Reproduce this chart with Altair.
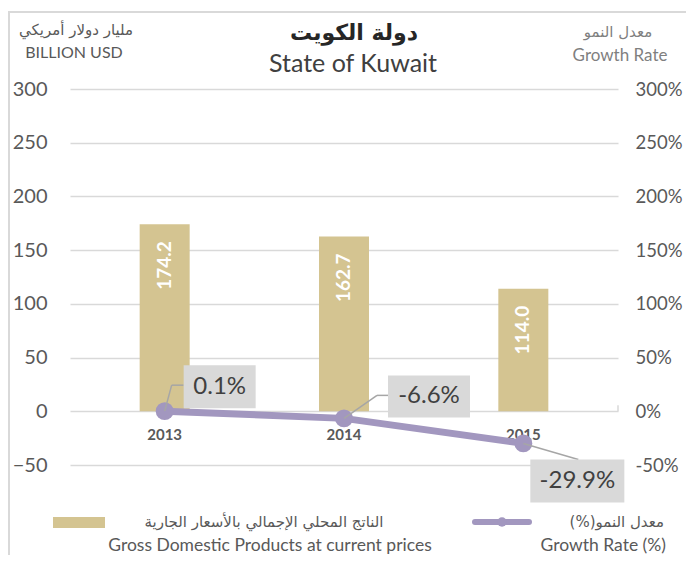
import altair as alt
import pandas as pd

# ---------------- data ----------------
years = ["2013", "2014", "2015"]
gdp = [174.2, 162.7, 114.0]
growth = [0.1, -6.6, -29.9]
gdp_text = ["174.2", "162.7", "114.0"]
growth_text = ["0.1%", "-6.6%", "-29.9%"]
y_ticks = [-50, 0, 50, 100, 150, 200, 250, 300]

title_ar = "دولة الكويت"
title_en = "State of Kuwait"
unit_ar = "مليار دولار أمريكي"
unit_en = "BILLION USD"
rate_ar = "معدل النمو"
rate_en = "Growth Rate"
legend_gdp_ar = "الناتج المحلي الإجمالي بالأسعار الجارية"
legend_gdp_en = "Gross Domestic Products at current prices"
legend_rate_ar = "(%)معدل النمو"
legend_rate_en = "Growth Rate (%)"

# ---------------- styles ----------------
n = len(years)
df = pd.DataFrame({"i": list(range(n)), "year": years, "gdp": gdp, "growth": growth,
                   "gdp_text": gdp_text, "growth_text": growth_text})

W, H = 548, 376
PAD = {"left": 62, "top": 81, "right": 68, "bottom": 90}
FONT = "Lato"
AR_FONT = "DejaVu Sans"
GRID = "#d9d9d9"
BAR = "#d4c491"
LINE = "#a297bf"
TXT = "#595959"

# label box placement (pixel offsets relative to the point): (cx, cy, w, h), leader segments
label_style = [
    dict(box=(55, -24.5, 72, 43), leader=[(0, 0, 7, -26), (7, -26, 19, -26)]),
    dict(box=(85, -22, 82, 42), leader=[(0, 0, 33, -23), (33, -23, 44, -23)]),
    dict(box=(54, 37.5, 94, 43), leader=[(0, 0, 55, 16)]),
]

xs = alt.Scale(domain=[-0.5, n - 0.5], nice=False, zero=False)
X = alt.X("i:Q", scale=xs, axis=None)


def Y(field, axis=None):
    return alt.Y(field, scale=alt.Scale(domain=[-50, 300], nice=False, zero=False), axis=axis)


base = alt.Chart(df).transform_calculate(zero="0")

left_axis = alt.Axis(values=y_ticks, grid=True, gridColor=GRID, gridWidth=1.5, domain=False, ticks=False,
                     labelFont=FONT, labelFontSize=20, labelColor=TXT, labelPadding=23, title=None)
right_axis = alt.Axis(orient="right", values=y_ticks, grid=False, domain=False, ticks=False,
                      labelFont=FONT, labelFontSize=18.5, labelColor=TXT, labelPadding=17, title=None,
                      labelExpr="datum.value + '%'")

bars = base.mark_bar(width=50, color=BAR).encode(x=X, y=Y("gdp:Q", left_axis), y2="zero:Q")

bar_labels = base.mark_text(angle=270, align="right", baseline="middle", dx=-17, font=FONT,
                            fontSize=19, fontWeight="bold", color="white").encode(
    x=X, y=Y("gdp:Q"), text="gdp_text:N")

year_labels = base.mark_text(dy=24, font=FONT, fontSize=15, fontWeight="bold", color=TXT).encode(
    x=X, y=Y("zero:Q"), text="year:N")

end_tick = alt.Chart(pd.DataFrame({"v": [0]})).mark_rule(color=GRID, strokeWidth=1.5, y2Offset=-6).encode(
    x=alt.value(W), y=Y("v:Q"), y2="v:Q")

line = base.mark_line(color=LINE, strokeWidth=7).encode(x=X, y=Y("growth:Q", right_axis))
points = base.mark_circle(size=320, color=LINE, opacity=1).encode(x=X, y=Y("growth:Q"))

label_layers = []
for i, st in enumerate(label_style):
    sub = base.transform_filter(f"datum.i == {i}")
    for (a, b, c, d) in st["leader"]:
        label_layers.append(sub.mark_rule(color="#a6a6a6", strokeWidth=1.5, xOffset=a, yOffset=b,
                                          x2Offset=c, y2Offset=d).encode(
            x=X, x2="i:Q", y=Y("growth:Q"), y2="growth:Q"))
    cx, cy, w, h = st["box"]
    r = h / w
    label_layers.append(sub.mark_point(shape=f"M-1,-{r:.4f}H1V{r:.4f}H-1Z", size=w * w, filled=True,
                                       color=GRID, opacity=1, strokeWidth=0, xOffset=cx, yOffset=cy).encode(
        x=X, y=Y("growth:Q")))
    label_layers.append(sub.mark_text(dx=cx, dy=cy, font=FONT, fontSize=24, color="#404040",
                                      baseline="middle").encode(
        x=X, y=Y("growth:Q"), text="growth_text:N"))


def label(txt, x, y, size, color=TXT, weight="normal", align="center", font=FONT):
    return alt.Chart(pd.DataFrame({"t": [txt]})).mark_text(
        font=font, fontSize=size, fontWeight=weight, color=color, align=align, baseline="middle").encode(
        x=alt.value(x), y=alt.value(y), text="t:N")


deco = [
    label(title_ar, 284, -56, 22, "#262626", "bold", font=AR_FONT),
    label(title_en, 283, -25, 25, "#404040"),
    label(unit_ar, 6, -59, 15, TXT, font=AR_FONT),
    label(unit_en, 4, -36, 16, TXT),
    label(rate_ar, 548, -57, 15, "#7f7f7f", font=AR_FONT),
    label(rate_en, 550, -33, 17, "#7f7f7f"),
    label(legend_gdp_ar, 194, 433, 15, TXT, font=AR_FONT),
    label(legend_gdp_en, 200, 457, 17.5, TXT),
    label(legend_rate_ar, 594, 433, 15, TXT, align="right", font=AR_FONT),
    label(legend_rate_en, 596, 457, 17.5, TXT, align="right"),
]

one = alt.Chart(pd.DataFrame({"k": [0]}))
legend_rect = one.mark_rect(color=BAR).encode(x=alt.value(-17), x2=alt.value(35), y=alt.value(428),
                                              y2=alt.value(439))
legend_line = one.mark_rule(color=LINE, strokeWidth=6, strokeCap="round").encode(
    x=alt.value(405), x2=alt.value(459), y=alt.value(433))
legend_dot = one.mark_circle(color=LINE, size=90, opacity=1).encode(x=alt.value(432), y=alt.value(433))
border_left = one.mark_rule(color=GRID, strokeWidth=2).encode(
    x=alt.value(-61), y=alt.value(-77), y2=alt.value(H + 90))
border_top = one.mark_rule(color=GRID, strokeWidth=2).encode(
    x=alt.value(-62), x2=alt.value(W + 68), y=alt.value(-77))

chart = alt.layer(
    bars, end_tick, bar_labels, year_labels, line, points, *label_layers, *deco,
    legend_rect, legend_line, legend_dot, border_left, border_top
).resolve_scale(y="independent").properties(
    width=W, height=H,
    padding=PAD,
    autosize=alt.AutoSizeParams(type="none"),
).configure_view(stroke=None)

chart.save("out.html", embed_options={"renderer": "svg", "actions": False})
